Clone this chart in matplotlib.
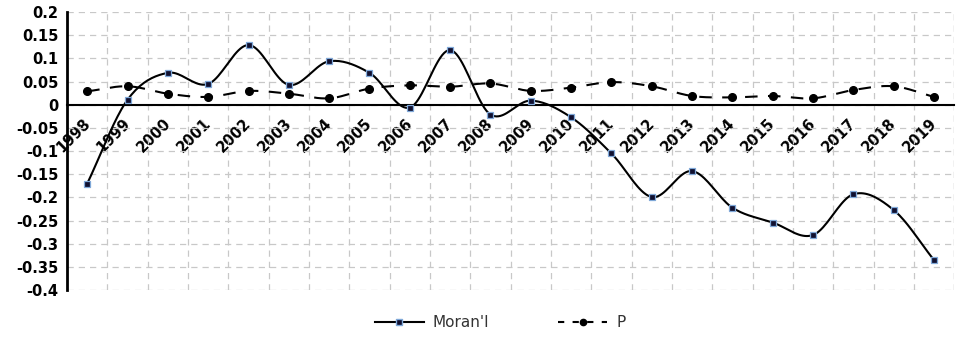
import numpy as np
import matplotlib.pyplot as plt
import matplotlib.transforms as mtransforms

years = [str(y) for y in range(1998, 2020)]
moran = [-0.17, 0.011, 0.069, 0.045, 0.129, 0.043, 0.094, 0.069, -0.006, 0.118, -0.021,
         0.009, -0.027, -0.105, -0.199, -0.143, -0.222, -0.254, -0.281, -0.193, -0.227, -0.335]
p_val = [0.029, 0.040, 0.024, 0.017, 0.030, 0.024, 0.014, 0.035, 0.042, 0.039, 0.046,
         0.030, 0.037, 0.049, 0.040, 0.019, 0.016, 0.019, 0.014, 0.032, 0.040, 0.017]
y_ticks = [-0.4, -0.35, -0.3, -0.25, -0.2, -0.15, -0.1, -0.05, 0, 0.05, 0.1, 0.15, 0.2]


def smooth(x, y, n=20):
    # Catmull-Rom spline, like Excel's "smoothed line"
    x = np.asarray(x, float)
    y = np.asarray(y, float)
    px = np.concatenate([[2 * x[0] - x[1]], x, [2 * x[-1] - x[-2]]])
    py = np.concatenate([[2 * y[0] - y[1]], y, [2 * y[-1] - y[-2]]])
    xs, ys = [], []
    t = np.linspace(0, 1, n, endpoint=False)
    for i in range(1, len(px) - 2):
        for arr, out in ((px, xs), (py, ys)):
            p0, p1, p2, p3 = arr[i - 1], arr[i], arr[i + 1], arr[i + 2]
            out.extend(0.5 * (2 * p1 + (-p0 + p2) * t + (2 * p0 - 5 * p1 + 4 * p2 - p3) * t ** 2
                              + (-p0 + 3 * p1 - 3 * p2 + p3) * t ** 3))
    xs.append(x[-1])
    ys.append(y[-1])
    return np.array(xs), np.array(ys)


x = np.arange(len(years))

fig = plt.figure(figsize=(9.58, 3.37), dpi=100)
ax = fig.add_axes([0.070, 0.139, 0.926, 0.825])

# move the x axis to y=0 first (this resets tick settings)
ax.spines['bottom'].set_position(('data', 0))
ax.spines['bottom'].set_linewidth(1.5)
ax.spines['left'].set_linewidth(2)
ax.spines['top'].set_visible(False)
ax.spines['right'].set_visible(False)

sx, sy = smooth(x, moran)
ax.plot(sx, sy, color='black', lw=1.5, zorder=3)
ax.plot(x, moran, ls='none', marker='s', ms=4.5, mfc='#101030', mec='#7fa8d8', mew=0.9, zorder=4)
px_, py_ = smooth(x, p_val)
ax.plot(px_, py_, color='black', lw=1.5, ls=(0, (6, 5)), zorder=3)
ax.plot(x, p_val, ls='none', marker='o', ms=5.5, color='black', zorder=4)

ax.set_xlim(-0.5, len(years) - 0.5)
ax.set_ylim(-0.4, 0.2)
ax.set_yticks(y_ticks)
ax.set_yticklabels([f'{v:g}' for v in y_ticks], fontsize=10.5, fontweight='bold')

ax.set_xticks(x)
ax.set_xticks(np.arange(-0.5, len(years)), minor=True)
ax.set_xticklabels(years, rotation=45, ha='right', va='top', rotation_mode='anchor',
                   fontsize=10.5, fontweight='bold')
ax.tick_params(axis='x', which='both', length=0, pad=8)
ax.tick_params(axis='y', length=0, pad=6)
shift = mtransforms.ScaledTranslation(-5 / 100, 0, fig.dpi_scale_trans)
for lab in ax.get_xticklabels():
    lab.set_transform(lab.get_transform() + shift)

ax.grid(True, axis='y', ls=(0, (5, 4)), color='#c8c8c8', lw=0.9)
ax.grid(True, axis='x', which='minor', ls=(0, (5, 4)), color='#c8c8c8', lw=0.9)
ax.grid(False, axis='x', which='major')
ax.axvline(len(years) - 0.5, ls=(0, (5, 4)), color='#c8c8c8', lw=0.9)

h1, = ax.plot([], [], color='black', lw=1.5, marker='s', ms=4.5, mfc='#101030', mec='#7fa8d8')
h2, = ax.plot([], [], color='black', lw=1.5, ls=(0, (3, 4)), marker='o', ms=4.5)
leg = fig.legend([h1, h2], ["Moran'I", 'P'], loc='center', bbox_to_anchor=(0.522, 0.042), ncol=2,
                 frameon=False, fontsize=11, columnspacing=4.5, handlelength=3.2, handletextpad=0.6)
for t in leg.get_texts():
    t.set_color('#333333')

fig.savefig('out.png', dpi=100)
